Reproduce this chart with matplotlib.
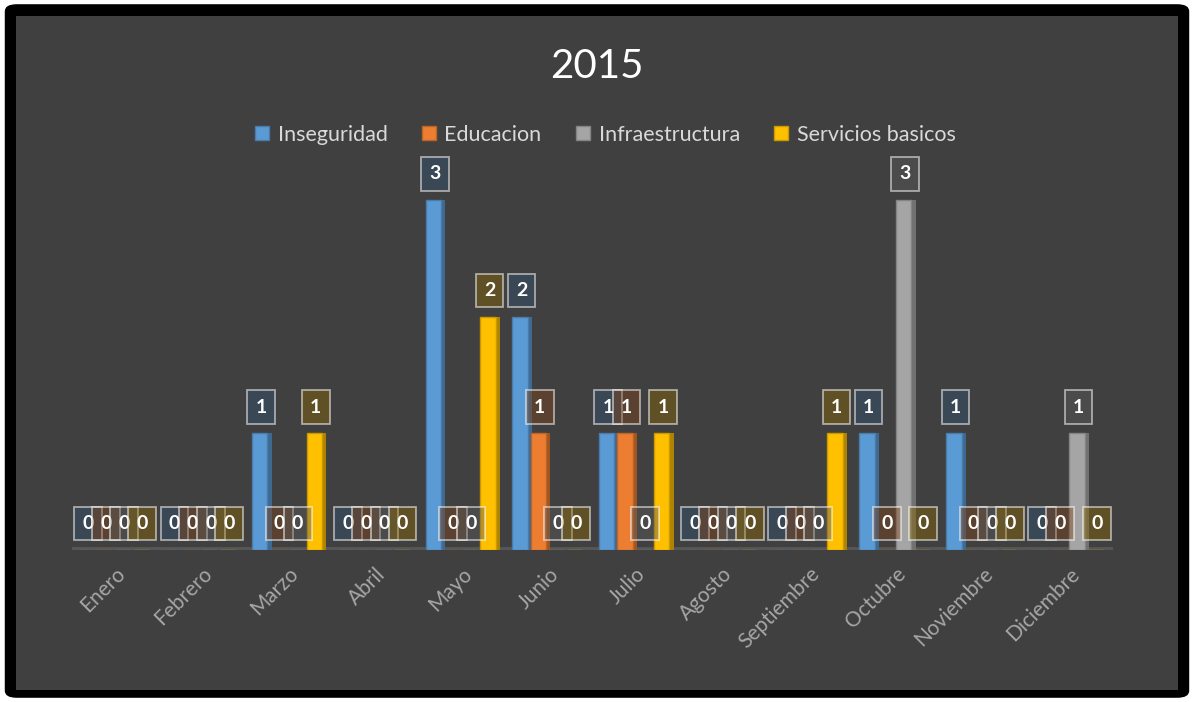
import numpy as np
import matplotlib
matplotlib.use('Agg')
import matplotlib.pyplot as plt
from matplotlib.patches import FancyBboxPatch, Rectangle
from matplotlib.colors import to_rgb

plt.rcParams['font.family'] = ['Lato', 'DejaVu Sans']

# Data
meses = ['Enero', 'Febrero', 'Marzo', 'Abril', 'Mayo', 'Junio', 'Julio',
         'Agosto', 'Septiembre', 'Octubre', 'Noviembre', 'Diciembre']
inseguridad = [0, 0, 1, 0, 3, 2, 1, 0, 0, 1, 1, 0]
educacion = [0, 0, 0, 0, 0, 1, 1, 0, 0, 0, 0, 0]
infraestructura = [0, 0, 0, 0, 0, 0, 0, 0, 0, 3, 0, 1]
servicios = [0, 0, 1, 0, 2, 0, 1, 0, 1, 0, 0, 0]

series_names = ['Inseguridad', 'Educacion', 'Infraestructura', 'Servicios basicos']
series_vals = [inseguridad, educacion, infraestructura, servicios]
colores = ['#5b9bd5', '#ed7d31', '#a5a5a5', '#ffc000']

bg = '#404040'

def darker(c, f=0.7):
    r, g, b = to_rgb(c)
    return (r * f, g * f, b * f)

def label_face(c, a=0.42):
    r, g, b = to_rgb(c)
    return (r * 0.55, g * 0.55, b * 0.55, a)

fig = plt.figure(figsize=(11.94, 7.02), dpi=100)
fig.patch.set_facecolor('white')

# black frame and gray chart area
fig.patches.append(FancyBboxPatch((0.004, 0.006), 0.992, 0.988,
                                  boxstyle='round,pad=0,rounding_size=0.01',
                                  transform=fig.transFigure, facecolor='black',
                                  edgecolor='none', zorder=-3))
fig.patches.append(Rectangle((16 / 1194, 12 / 702), (1178 - 16) / 1194, (686 - 12) / 702,
                             transform=fig.transFigure, facecolor=bg,
                             edgecolor='none', zorder=-2))

ax = fig.add_axes([0.060, 0.2165, 0.872, 0.548])
ax.set_facecolor('none')

x = np.arange(len(meses))
w = 0.21
for k, (name, vals, col) in enumerate(zip(series_names, series_vals, colores)):
    pos = x + (k - 1.5) * w
    vals = np.array(vals)
    ax.bar(pos - w * 0.08, vals, width=w * 0.84, color=col, edgecolor=darker(col, 0.8),
           linewidth=1.0, zorder=3, label=name)
    ax.bar(pos + w * 0.46, vals, width=w * 0.24, color=darker(col, 0.68),
           edgecolor='none', zorder=2)
    for xi, v in zip(pos, vals):
        ax.annotate(str(v), xy=(xi, v), xytext=(0, 19), textcoords='offset points',
                    ha='center', va='center', color='white', fontsize=14,
                    fontweight='bold', zorder=5,
                    bbox=dict(boxstyle='square,pad=0.42', facecolor=label_face(col),
                              edgecolor=(1, 1, 1, 0.55), linewidth=1.3))

# floor
ax.axhline(0, color='#565656', linewidth=5, zorder=1)

ax.set_xlim(-0.5, len(meses) - 0.5)
ax.set_ylim(0, 3.3)
ax.set_yticks([])
ax.set_xticks(x)
ax.set_xticklabels(meses, rotation=45, ha='right', va='top', rotation_mode='anchor',
                   color='#a6a6a6', fontsize=15)
ax.tick_params(axis='x', length=0, pad=10)
for s in ax.spines.values():
    s.set_visible(False)

fig.text(0.5, 0.905, '2015', ha='center', va='center', color='white', fontsize=29)

leg = fig.legend(loc='center', bbox_to_anchor=(0.507, 0.808), ncol=4, frameon=False,
                 fontsize=15.5, handlelength=0.65, handleheight=0.65, handletextpad=0.4,
                 columnspacing=1.6, labelcolor='#d9d9d9')

fig.savefig('out.png', dpi=100, facecolor=fig.get_facecolor())
